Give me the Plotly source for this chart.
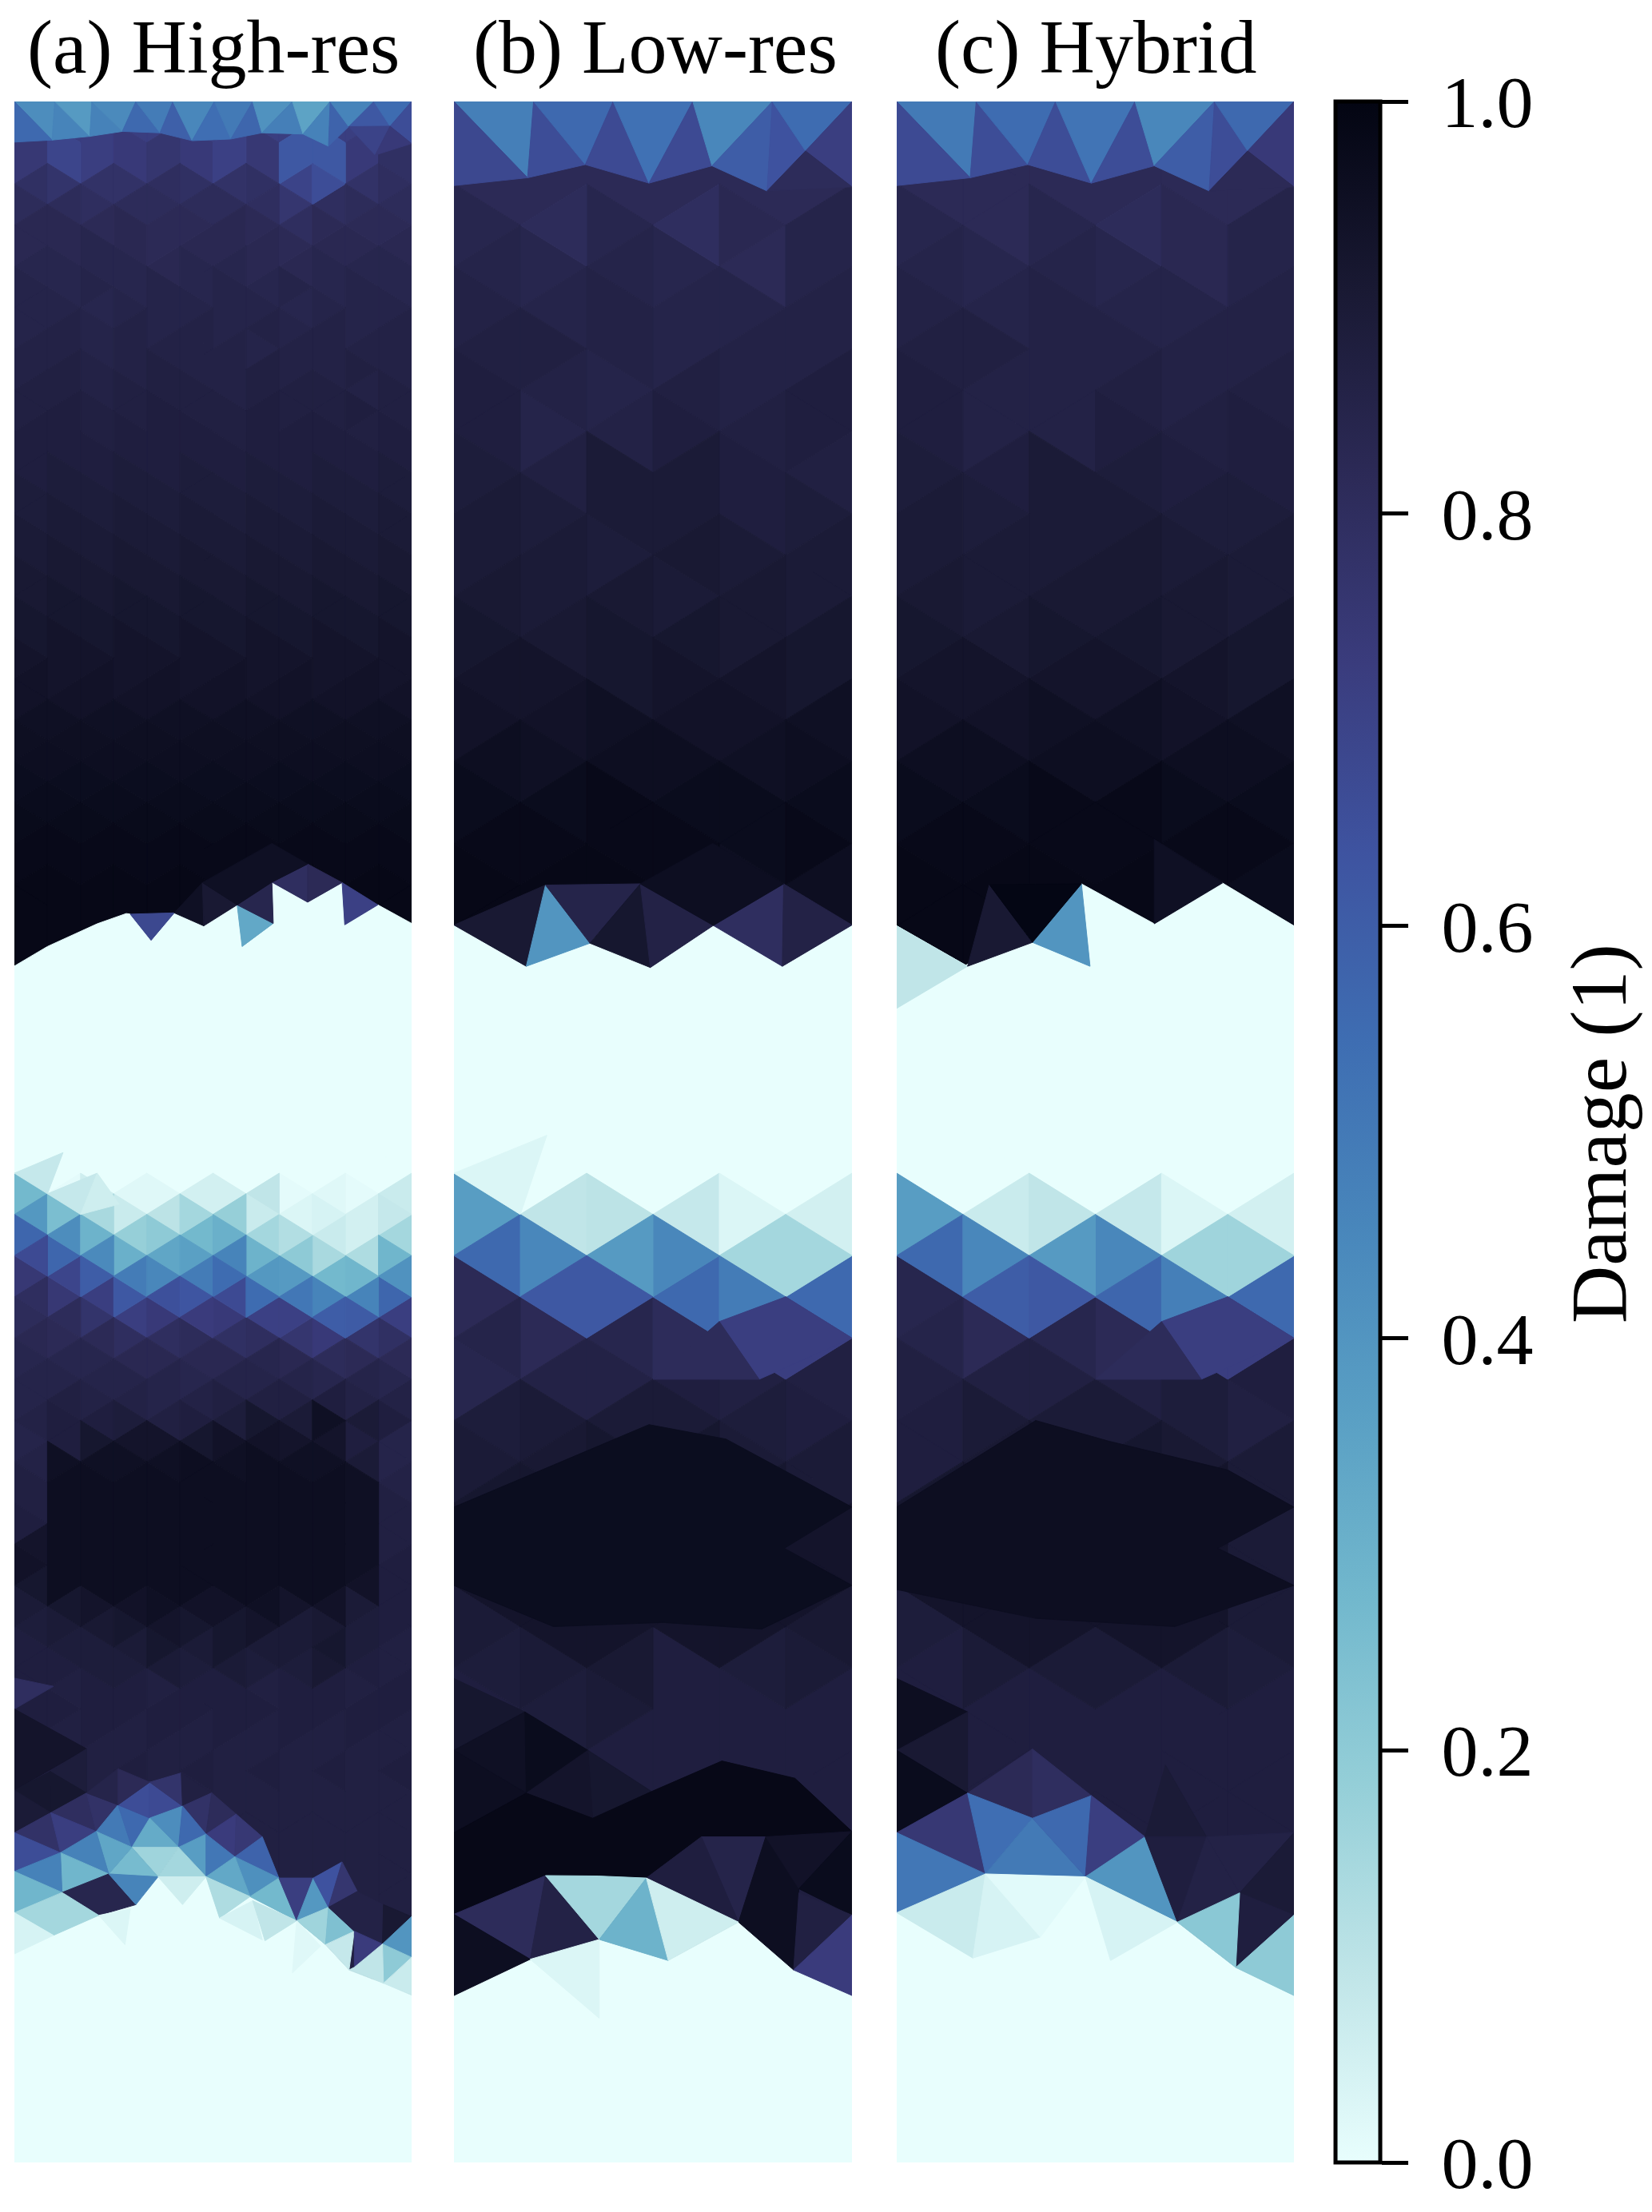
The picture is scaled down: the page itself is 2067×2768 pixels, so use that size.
import numpy as np
import plotly.graph_objects as go
from plotly.colors import cmocean

# ---- labels ----
PANEL_TITLES = ["(a) High-res", "(b) Low-res", "(c) Hybrid"]
COLORBAR_TITLE = "Damage (1)"
TICK_START, TICK_STEP = 0.0, 0.2
FONT = "Liberation Serif"

# ---- damage per lattice row (row index -> triangles left to right; short lists repeat; missing rows are 0) ----
HIGH_ROWS = {
 -1:[.70], 0:[.72],
 1:[.75,.69,.72,.74,.76,.74,.71,.75,.62,.62,.74,.79],
 2:[.75,.69,.72,.74,.76,.74,.71,.75,.62,.62,.74,.79],
 3:[.79,.77,.78,.78,.80,.79,.78,.79,.70,.66,.78,.80],
 4:[.81,.81,.80,.81,.81,.81,.81,.80,.76,.80,.81,.81],
 5:[.83,.83,.82,.83,.82,.82,.83,.82,.80,.82,.82,.82],
 6:[.83,.83,.84,.83,.82,.83,.83,.83,.82,.83,.83,.83],
 7:[.84,.84,.84,.84,.83,.84,.84,.83,.83,.84,.84,.84],
 8:[.85,.84,.85,.84,.85,.84], 9:[.85,.85,.84,.85,.85,.85], 10:[.85,.86,.85,.86],
 11:[.86,.86,.85,.86,.86], 12:[.86,.87,.86], 13:[.87,.87,.86,.87], 14:[.87,.88,.87],
 15:[.88,.88,.87,.88], 16:[.88], 17:[.88,.89], 18:[.89], 19:[.89,.90],
 20:[.90], 21:[.90,.91], 22:[.91], 23:[.91,.92], 24:[.92], 25:[.92,.93],
 26:[.93], 27:[.94,.93], 28:[.94], 29:[.95], 30:[.955], 31:[.96], 32:[.965],
 33:[.97], 34:[.975], 35:[.98], 36:[.98], 37:[.985], 38:[.985], 39:[.985], 40:[.985], 41:[.985],
 52:[.27,.01,.06,.02,.02,.05,.05,.09,.01,.02,.01,.07],
 53:[.39,.25,.14,.07,.10,.15,.18,.07,.03,.04,.05,.08],
 54:[.57,.43,.29,.18,.20,.27,.30,.15,.12,.07,.05,.15],
 55:[.67,.57,.44,.30,.34,.36,.46,.29,.20,.14,.13,.28],
 56:[.75,.69,.60,.49,.45,.49,.55,.39,.38,.27,.28,.41],
 57:[.80,.75,.72,.62,.65,.63,.67,.55,.51,.46,.46,.57],
 58:[.81,.81,.77,.72,.74,.73,.74,.71,.71,.60,.61,.72],
 59:[.83,.82,.82,.80,.80,.81,.79,.80,.76,.74,.77,.79],
 60:[.84,.84,.84,.83,.83,.83,.83,.84,.83,.81,.82,.82],
 61:[.85,.85,.85,.85,.85,.84,.85,.85,.85,.84,.85,.84],
 62:[.85,.87,.86,.86,.85,.86,.87,.87,.87,.88,.86,.86],
 63:[.86,.88,.88,.89,.87,.88,.89,.92,.90,.95,.90,.88],
 64:[.85,.88,.92,.93,.93,.92,.94,.94,.93,.93,.88,.85],
 65:[.86,.95,.95,.95,.95,.96,.95,.96,.95,.95,.90,.85],
 66:[.87,.96,.96,.96,.96,.96,.96,.96,.96,.96,.95,.86],
 67:[.87,.96,.96,.96,.96,.96,.96,.96,.96,.96,.95,.87],
 68:[.88,.96,.96,.96,.96,.96,.96,.96,.96,.96,.95,.87],
 69:[.93,.96,.96,.96,.96,.96,.96,.96,.96,.96,.95,.87],
 70:[.94,.96,.96,.96,.96,.96,.96,.96,.96,.96,.95,.88],
 71:[.92,.96,.96,.96,.96,.96,.96,.96,.96,.96,.94,.88],
 72:[.90,.92,.93,.94,.95,.94,.94,.95,.93,.94,.90,.88],
 73:[.89,.90,.91,.92,.93,.92,.92,.93,.90,.91,.89,.88],
 74:[.88,.89,.89,.90,.92,.90,.92,.90,.90,.92,.89,.87],
 75:[.88,.88,.89,.89,.90,.89,.90,.89,.89,.91,.88,.87],
 76:[.88,.87,.88], 77:[.88], 78:[.88,.87], 79:[.87], 80:[.87,.88], 81:[.87],
 82:[.87], 83:[.87], 84:[.87], 85:[.87], 86:[.87], 87:[.87], 88:[.87], 89:[.87], 90:[.87],
}
LOW_ROWS = {
 -1:[.82], 0:[.82], 1:[.82],
 2:[.84,.81,.84,.80,.83,.85], 3:[.85,.84,.85,.84,.82,.85], 4:[.86,.85,.86,.85,.85,.86],
 5:[.87,.87,.86,.85,.86,.86], 6:[.88,.86,.85,.87,.86,.88], 7:[.88,.85,.86,.88,.87,.88],
 8:[.89,.87,.90,.90,.88,.87], 9:[.90,.89,.90,.90,.88,.89], 10:[.90,.90,.89,.91,.90,.90],
 11:[.91,.90,.91,.90,.91,.90], 12:[.92,.91,.92,.92,.91,.92], 13:[.93,.93,.92,.93,.93,.92],
 14:[.94,.94,.95,.94,.94,.95], 15:[.96,.95,.96,.96,.95,.96], 16:[.97,.97,.98,.97,.97,.97],
 17:[.98,.98,.98,.98,.97,.98], 18:[.985,.985,.985,.985,.96,.96], 19:[.985],
 26:[.37,.09,.10,.08,.03,.05], 27:[.56,.45,.38,.45,.15,.15], 28:[.82,.62,.62,.56,.49,.56],
 29:[.85,.82,.84,.81,.72,.72], 30:[.84,.86,.86,.88,.87,.87], 31:[.89,.90,.90,.90,.89,.88],
 32:[.90,.91,.92,.92,.90,.90], 33:[.92,.92,.93,.93,.92,.90], 34:[.93,.93,.93,.93,.93,.93],
 35:[.93,.93,.93,.93,.93,.93], 36:[.90,.93,.93,.93,.93,.91], 37:[.89,.90,.91,.88,.89,.90],
 38:[.88,.89,.90,.88,.88,.88], 39:[.88], 40:[.88], 41:[.88], 42:[.88], 43:[.88], 44:[.88], 45:[.88],
}
HYBRID_ROWS = {
 -1:[.82], 0:[.82], 1:[.82],
 2:[.84,.82,.84,.81,.83,.85], 3:[.85,.84,.85,.84,.83,.85], 4:[.86,.85,.86,.85,.85,.86],
 5:[.87,.87,.86,.86,.86,.86], 6:[.88,.86,.86,.87,.86,.87], 7:[.88,.86,.86,.88,.87,.88],
 8:[.89,.88,.90,.89,.88,.88], 9:[.90,.89,.90,.90,.89,.89], 10:[.90,.90,.90,.91,.90,.90],
 11:[.91,.90,.91,.91,.91,.90], 12:[.92,.91,.92,.92,.91,.92], 13:[.93,.93,.93,.93,.93,.92],
 14:[.94,.94,.95,.95,.94,.95], 15:[.96,.96,.96,.96,.96,.96], 16:[.97,.97,.98,.98,.97,.97],
 17:[.98,.98,.98,.98,.98,.98], 18:[.985,.985,.985,.985,.96,.97], 19:[.985],
 26:[.37,.07,.09,.08,.03,.05], 27:[.56,.45,.38,.45,.16,.16], 28:[.84,.60,.62,.57,.48,.56],
 29:[.85,.82,.84,.82,.72,.72], 30:[.87,.87,.87,.87,.89,.88], 31:[.88,.90,.90,.90,.89,.87],
 32:[.88,.91,.92,.92,.91,.90], 33:[.92,.93,.93,.93,.93,.90], 34:[.93,.93,.93,.93,.93,.90],
 35:[.93,.93,.93,.93,.93,.90], 36:[.89,.93,.93,.93,.93,.90], 37:[.88,.90,.90,.90,.90,.89],
 38:[.88], 39:[.88], 40:[.88], 41:[.88], 42:[.88], 43:[.88], 44:[.88], 45:[.88],
}

# ---- undamaged crack regions: outline of mesh nodes (column, row) ----
HIGH_CRACKS = [
 [(0,41.95),(1,41),(2.5,39.9),(3.38,39.4),(3.5,39.43),(4.13,40.7),(4.83,39.37),(5.72,40),(6.73,38.98),(6.88,41),(7.82,39.88),(7.78,37.88),(8.86,38.85),(9.9,37.9),(9.98,39.95),(10.98,38.98),(12,39.88),(12,50),(0,50)],
 [(0,87.88),(1.4,87),(3,86.5),(4.34,86.14),(5.79,86.14),(7.12,87.1),(8.53,88.27),(9.4,89.43),(10.11,90.66),(12,91.88),(12,100),(0,100)],
]
LOW_CRACKS = [
 [(0,19.98),(1.09,20.98),(2.05,20.42),(2.96,21.01),(3.91,19.99),(4.95,20.98),(6,19.98),(6,25),(0,25)],
 [(0,45.95),(1.15,45.07),(2.19,44.59),(3.23,45.1),(4.29,44.17),(5.12,45.33),(6,45.95),(6,50),(0,50)],
]
HYBRID_CRACKS = [
 [(0,20),(1.07,20.98),(2.05,20.4),(2.92,20.98),(2.79,18.98),(3.89,19.95),(4.92,18.96),(6,20),(6,25),(0,25)],
 [(0,43.94),(1.34,43),(2.85,43.07),(4.24,44.17),(5.12,45.27),(6,45.95),(6,50),(0,50)],
]

# ---- irregular mesh cells: (damage, nodes as (column, row)) ----
HIGH_CELLS = [
 # top edge
 (.43,[(0,0),(1.22,0),(1.14,1.87)]),(.56,[(0,0),(1.14,1.87),(0,1.97)]),
 (.46,[(1.22,0),(2.28,1.69),(1.14,1.87)]),(.38,[(1.22,0),(2.34,0),(2.28,1.69)]),
 (.47,[(2.34,0),(3.26,1.45),(2.28,1.69)]),(.44,[(2.34,0),(3.67,0),(3.26,1.45)]),
 (.56,[(3.67,0),(4.4,1.52),(3.26,1.45)]),(.49,[(3.67,0),(4.79,0),(4.4,1.52)]),
 (.59,[(4.79,0),(5.37,1.9),(4.4,1.52)]),(.45,[(4.79,0),(6.04,0),(5.37,1.9)]),
 (.54,[(6.04,0),(6.54,1.82),(5.37,1.9)]),(.50,[(6.04,0),(7.2,0),(6.54,1.82)]),
 (.57,[(7.2,0),(7.48,1.52),(6.54,1.82)]),(.41,[(7.2,0),(8.4,0),(7.48,1.52)]),
 (.48,[(8.4,0),(8.72,1.58),(7.48,1.52)]),(.35,[(8.4,0),(9.54,0),(8.72,1.58)]),
 (.47,[(9.54,0),(9.49,2.17),(8.72,1.58)]),(.58,[(9.54,0),(10.1,1.22),(9.49,2.17)]),
 (.46,[(9.54,0),(10.86,0),(10.1,1.22)]),(.62,[(10.86,0),(11.35,1.2),(10.1,1.22)]),
 (.55,[(10.86,0),(12,0),(11.35,1.2)]),(.66,[(12,0),(12,2.04),(11.35,1.2)]),
 (.70,[(10.1,1.22),(11.35,1.2),(10.9,2.6)]),(.74,[(11.35,1.2),(12,2.04),(10.9,2.6)]),
 # upper crack edge
 (.68,[(3.5,39.43),(4.83,39.37),(4.13,40.7)]),(.33,[(6.73,38.98),(7.82,39.88),(6.88,41)]),
 (.71,[(9.98,39.95),(9.9,37.9),(10.98,38.98)]),(.84,[(6.73,38.98),(7.78,37.88),(7.82,39.88)]),
 (.80,[(7.78,37.88),(8.86,37),(8.86,38.85)]),(.82,[(8.86,37),(9.9,37.9),(8.86,38.85)]),
 (.95,[(4.83,39.37),(5.68,37.9),(5.72,40)]),(.91,[(5.68,37.9),(6.73,38.98),(5.72,40)]),
 (.95,[(5.68,37.9),(7.78,36),(8.86,37),(7.78,37.88),(6.73,38.98)]),
 # faint cells above the lower damage band
 (.08,[(0,52),(1.47,51),(1,53)]),(.08,[(1,53),(2.5,52),(2,54)]),(.06,[(2.5,52),(3.17,53.5),(2,54)]),
 # lower crack edge
 (.80,[(0,76.5),(1.18,76.9),(0,78)]),(.93,[(0,78),(2.18,79.93),(0,81.94)]),
 (.89,[(1.08,81.03),(2.18,79.93),(2.18,82.07)]),(.92,[(1.08,81.03),(2.18,82.07),(1.1,83.03)]),
 (.92,[(0,81.94),(1.08,81.03),(1.1,83.03)]),(.90,[(0,81.94),(1.1,83.03),(0,84)]),
 (.80,[(1.1,83.03),(2.18,82.07),(2.47,83.94)]),(.78,[(2.18,82.07),(3.13,82.65),(2.47,83.94)]),
 (.78,[(0,84),(1.1,83.03),(1.39,84.97)]),(.72,[(1.1,83.03),(2.47,83.94),(1.39,84.97)]),
 (.66,[(0,84),(1.39,84.97),(0,85.88)]),(.50,[(2.47,83.94),(3.13,82.65),(3.55,84.71)]),
 (.56,[(3.13,82.65),(4.09,83.29),(3.55,84.71)]),(.66,[(3.13,82.65),(4.09,81.55),(4.09,83.29)]),
 (.67,[(4.09,81.55),(5.08,82.71),(4.09,83.29)]),(.77,[(4.09,81.55),(5.04,81.1),(5.08,82.71)]),
 (.85,[(2.18,82.07),(3.13,80.9),(3.13,82.65)]),(.82,[(3.13,80.9),(4.09,81.55),(3.13,82.65)]),
 (.87,[(5.04,81.1),(5.96,82.07),(5.08,82.71)]),(.78,[(5.08,82.71),(5.96,82.07),(5.79,84.07)]),
 (.81,[(5.96,82.07),(6.7,83.1),(5.79,84.07)]),(.73,[(5.79,84.07),(6.7,83.1),(6.66,85.17)]),
 (.75,[(6.7,83.1),(7.49,84.2),(6.66,85.17)]),(.58,[(6.66,85.17),(7.49,84.2),(7.99,86.2)]),
 (.43,[(4.09,83.29),(5.08,82.71),(4.96,84.71)]),(.56,[(5.08,82.71),(5.79,84.07),(4.96,84.71)]),
 (.32,[(4.09,83.29),(4.96,84.71),(3.55,84.71)]),(.37,[(5.79,84.07),(5.79,86.14),(4.96,84.71)]),
 (.51,[(5.79,84.07),(6.66,85.17),(5.79,86.14)]),(.42,[(6.66,85.17),(7.99,86.2),(7.12,87.1)]),
 (.33,[(6.66,85.17),(7.12,87.1),(5.79,86.14)]),(.16,[(3.55,84.71),(4.96,84.71),(4.34,86.14)]),
 (.15,[(4.96,84.71),(5.79,86.14),(4.34,86.14)]),(.26,[(3.55,84.71),(4.34,86.14),(2.85,86)]),
 (.34,[(2.47,83.94),(3.55,84.71),(2.85,86)]),(.47,[(1.39,84.97),(2.47,83.94),(2.85,86)]),
 (.28,[(1.39,84.97),(2.85,86),(1.44,86.9)]),(.47,[(1.39,84.97),(1.44,86.9),(0,85.88)]),
 (.28,[(0,85.88),(1.44,86.9),(0,87.88)]),(.84,[(1.44,86.9),(2.85,86),(3.67,87.49),(2.55,88.01)]),
 (.46,[(2.85,86),(4.34,86.14),(3.67,87.49)]),(.06,[(4.34,86.14),(5.79,86.14),(5.08,87.49)]),
 (.15,[(0,87.88),(1.44,86.9),(2.55,88.01),(1.18,88.98)]),(.04,[(0,87.88),(1.18,88.98),(0,89.88)]),
 (.03,[(2.55,88.01),(3.5,87.7),(3.34,89.43)]),(.13,[(5.79,86.14),(7.12,87.1),(6.2,88.14)]),
 (.27,[(7.12,87.1),(7.99,86.2),(8.53,88.27)]),(.04,[(6.2,88.14),(7.2,87.3),(7.49,89.2)]),
 (.09,[(7.2,87.3),(8.53,88.27),(7.57,89.24)]),(.72,[(7.99,86.2),(9.03,86.2),(8.53,88.27)]),
 (.39,[(9.03,86.2),(9.49,87.62),(8.53,88.27)]),(.64,[(9.03,86.2),(9.9,85.42),(9.49,87.62)]),
 (.76,[(9.9,85.42),(10.36,86.85),(9.49,87.62)]),(.16,[(8.53,88.27),(9.49,87.62),(9.4,89.43)]),
 (.24,[(9.49,87.62),(10.27,88.78),(9.4,89.43)]),(.08,[(9.4,89.43),(10.27,88.78),(10.11,90.66)]),
 (.86,[(9.49,87.62),(10.36,86.85),(11.15,87.49),(11.12,89.4),(10.27,88.78)]),
 (.73,[(10.27,88.78),(11.12,89.4),(10.27,90.53)]),(.91,[(11.15,87.49),(12,88.07),(11.12,89.4)]),
 (.40,[(12,88.07),(12,90.05),(11.12,89.4)]),(.20,[(11.12,89.4),(12,90.05),(11.15,91.3)]),
 (.07,[(12,90.05),(12,91.88),(11.15,91.3)]),(.09,[(10.11,90.66),(10.27,90.53),(11.12,89.4),(11.15,91.3)]),
 (.02,[(8.53,88.27),(9.25,89.5),(8.4,90.8)]),
]
LOW_TOP = [
 (.48,[(0,0),(1.2,0),(1.11,1.85)]),(.68,[(0,0),(1.11,1.85),(0,2.04)]),
 (.66,[(1.2,0),(1.98,1.53),(1.11,1.85)]),(.56,[(1.2,0),(2.4,0),(1.98,1.53)]),
 (.67,[(2.4,0),(2.94,1.98),(1.98,1.53)]),(.53,[(2.4,0),(3.6,0),(2.94,1.98)]),
 (.67,[(3.6,0),(3.89,1.56),(2.94,1.98)]),(.45,[(3.6,0),(4.8,0),(3.89,1.56)]),
 (.60,[(4.8,0),(4.72,2.17),(3.89,1.56)]),(.64,[(4.8,0),(5.3,1.2),(4.72,2.17)]),
 (.55,[(4.8,0),(6,0),(5.3,1.2)]),(.72,[(6,0),(6,2.07),(5.3,1.2)]),
 (.81,[(5.3,1.2),(6,2.07),(4.72,2.17)]),
]
LOW_CELLS = LOW_TOP + [
 (.91,[(0,19.98),(1.38,19.01),(1.09,20.98)]),(.40,[(1.38,19.01),(2.05,20.42),(1.09,20.98)]),
 (.85,[(1.38,19.01),(2.81,18.98),(2.05,20.42)]),(.92,[(2.81,18.98),(2.05,20.42),(2.96,21.01)]),
 (.86,[(2.81,18.98),(3.91,19.99),(2.96,21.01)]),(.80,[(3.91,19.99),(4.97,18.98),(4.95,20.98)]),
 (.86,[(4.97,18.98),(6,19.98),(4.95,20.98)]),(.96,[(3.91,19.99),(2.81,18.98),(3.9,18),(4.97,18.98)]),
 (.03,[(1,27),(1.4,25.08),(0,26)]),(.72,[(4,29.6),(5,29),(6,30),(4.6,31)]),(.81,[(4,29.6),(4.6,31),(3,31)]),
 (.965,[(0,34.1),(2.94,32.1),(4.1,32.45),(6,34.1),(4.98,35.1),(6,36),(4.64,37.06),(3.15,36.9),(1.5,37),(0,36)]),
 (.92,[(0,38.26),(1.07,39.07),(0,40)]),(.95,[(0,40),(1.07,39.07),(1.09,41.04)]),
 (.97,[(1.07,39.07),(2.02,40),(1.09,41.04)]),(.96,[(0,40),(1.09,41.04),(0,42)]),
 (.92,[(2.02,40),(2.98,41),(2.09,41.65)]),(.93,[(1.09,41.04),(2.02,40),(2.09,41.65)]),
 (.985,[(0,42),(1.09,41.04),(2.09,41.65),(2.98,41),(4.04,40.26),(5.14,40.68),(6,41.97),(4.7,42.1),(3.73,42.1),(2.9,43.1),(1.38,43.04),(0,43.98)]),
 (.85,[(3.73,42.1),(4.7,42.1),(4.29,44.17)]),(.88,[(2.9,43.1),(3.73,42.1),(4.29,44.17)]),
 (.96,[(4.7,42.1),(5.2,43.36),(5.12,45.33),(4.29,44.17)]),(.94,[(4.7,42.1),(6,41.97),(5.2,43.36)]),
 (.97,[(5.2,43.36),(6,41.97),(6,44)]),(.87,[(5.2,43.46),(6,44),(5.12,45.33)]),
 (.73,[(6,44),(6,45.95),(5.12,45.33)]),(.81,[(0,43.98),(1.38,43.04),(1.15,45.07)]),
 (.86,[(1.38,43.04),(2.19,44.59),(1.15,45.07)]),(.15,[(1.38,43.04),(2.17,43.05),(2.9,43.1),(2.19,44.59)]),
 (.29,[(2.9,43.1),(3.23,45.1),(2.19,44.59)]),(.06,[(2.9,43.1),(4.29,44.17),(3.23,45.1)]),
 (.96,[(0,43.98),(1.15,45.07),(0,45.95)]),(.03,[(1.15,45.07),(2.19,44.59),(2.19,46.5)]),
]
HYBRID_TOP = [
 (.50,[(0,0),(1.2,0),(1.11,1.85)]),(.67,[(0,0),(1.11,1.85),(0,2.04)]),
 (.66,[(1.2,0),(1.98,1.53),(1.11,1.85)]),(.55,[(1.2,0),(2.4,0),(1.98,1.53)]),
 (.66,[(2.4,0),(2.94,1.98),(1.98,1.53)]),(.52,[(2.4,0),(3.6,0),(2.94,1.98)]),
 (.66,[(3.6,0),(3.89,1.56),(2.94,1.98)]),(.45,[(3.6,0),(4.8,0),(3.89,1.56)]),
 (.60,[(4.8,0),(4.72,2.17),(3.89,1.56)]),(.66,[(4.8,0),(5.3,1.2),(4.72,2.17)]),
 (.56,[(4.8,0),(6,0),(5.3,1.2)]),(.74,[(6,0),(6,2.07),(5.3,1.2)]),
 (.82,[(5.3,1.2),(6,2.07),(4.72,2.17)]),
]
HYBRID_CELLS = HYBRID_TOP + [
 (.09,[(0,20),(1.07,20.98),(0,22)]),(.40,[(2.79,18.98),(2.05,20.4),(2.92,20.98)]),
 (.91,[(1.4,19),(2.05,20.4),(1.07,20.98)]),(.995,[(1.4,19),(2.79,18.98),(2.05,20.4)]),
 (.95,[(3.89,19.95),(3.89,17.9),(4.92,18.96)]),
 (.72,[(4,29.6),(5,29),(6,30),(4.6,31)]),(.81,[(4,29.6),(4.6,31),(3,31)]),
 (.96,[(0,34.1),(2.1,32),(3.2,32.5),(5,33.2),(6,34.1),(4.85,35.1),(6,36),(4.2,37),(2.1,36.8),(0,36.1)]),
 (.96,[(0,38.26),(1.07,39.07),(0,40)]),(.91,[(0,40),(1.07,39.07),(1.07,41.04)]),
 (.97,[(0,40),(1.07,41.04),(0,42)]),(.82,[(1.07,41.04),(2.05,39.97),(2.05,41.65)]),
 (.80,[(2.05,39.97),(2.94,41.1),(2.05,41.65)]),(.75,[(0,42),(1.07,41.04),(1.34,43)]),
 (.54,[(1.07,41.04),(2.05,41.65),(1.34,43)]),(.50,[(1.34,43),(2.05,41.65),(2.85,43.07)]),
 (.56,[(2.05,41.65),(2.94,41.1),(2.85,43.07)]),(.72,[(2.94,41.1),(3.75,42.1),(2.85,43.07)]),
 (.40,[(2.85,43.07),(3.75,42.1),(4.24,44.17)]),(.51,[(0,42),(1.34,43),(0,43.94)]),
 (.90,[(3.75,42.1),(4.06,40.36),(4.68,42.1)]),(.88,[(3.75,42.1),(4.68,42.1),(4.24,44.17)]),
 (.86,[(4.68,42.1),(5.18,43.46),(4.24,44.17)]),(.86,[(4.68,42.1),(6,42),(5.18,43.46)]),
 (.90,[(5.18,43.46),(6,42),(6,44)]),(.88,[(5.18,43.46),(6,44),(5.12,45.27)]),
 (.21,[(4.24,44.17),(5.18,43.46),(5.12,45.27)]),
 (.20,[(6,44),(6,45.95),(5.12,45.27)]),(.07,[(0,43.94),(1.34,43),(1.15,45.04)]),
 (.04,[(1.34,43),(2.17,44.53),(1.15,45.04)]),(.015,[(1.34,43),(2.85,43.07),(2.17,44.53)]),
 (.04,[(2.85,43.07),(4.24,44.17),(3.23,45.1)]),
]

PANELS = [
 dict(rows=HIGH_ROWS, cracks=HIGH_CRACKS, cells=HIGH_CELLS, cols=12, depth=100),
 dict(rows=LOW_ROWS, cracks=LOW_CRACKS, cells=LOW_CELLS, cols=6, depth=50),
 dict(rows=HYBRID_ROWS, cracks=HYBRID_CRACKS, cells=HYBRID_CELLS, cols=6, depth=50),
]

# ---- colormap: cmocean ice, reversed, with the lightest stop ----
ICE = [tuple(int(c) for c in s[4:-1].split(",")) for s in cmocean.ice][::-1]
ICE[0] = (232, 254, 253)
ICE_POS = np.linspace(0, 1, len(ICE))
def colour(v):
    return "rgb(%d,%d,%d)" % tuple(round(float(np.interp(v, ICE_POS, [c[i] for c in ICE]))) for i in range(3))

W, H = 2067, 2768
PLOT_TOP, PLOT_BOTTOM = 127, 2706
PANEL_X = [(18, 515), (568, 1066), (1122, 1619)]
TITLE_X = [267, 820, 1371]
CBAR_X, CBAR_W, CBAR_TOP, CBAR_BOTTOM = 1671, 56, 127, 2706

def row_cells(rows, cols, depth):
    for m in range(-1, depth):
        vals = np.resize(rows.get(m, [0.0]), cols)
        for k, v in enumerate(vals):
            if (k + m) % 2 == 0:
                yield float(v), [(k, m), (k, m + 2), (k + 1, m + 1)]
            else:
                yield float(v), [(k + 1, m), (k + 1, m + 2), (k, m + 1)]

def poly_trace(v, polys, xa, ya):
    xs, ys = [], []
    for p in polys:
        xs += [q[0] for q in p] + [p[0][0], None]
        ys += [q[1] for q in p] + [p[0][1], None]
    c = colour(v)
    return go.Scatter(x=xs, y=ys, mode="lines", fill="toself", fillcolor=c,
                      line=dict(color=c, width=1), xaxis=xa, yaxis=ya,
                      hoverinfo="skip", showlegend=False)

fig = go.Figure()
layout = {}
for i, (p, (x0, x1)) in enumerate(zip(PANELS, PANEL_X)):
    s = "" if i == 0 else str(i + 1)
    xa, ya = "x" + s, "y" + s
    layout["xaxis" + s] = dict(domain=[x0 / W, x1 / W], range=[0, p["cols"]], visible=False, fixedrange=True, anchor=ya)
    layout["yaxis" + s] = dict(domain=[1 - PLOT_BOTTOM / H, 1 - PLOT_TOP / H], range=[p["depth"], 0], visible=False, fixedrange=True, anchor=xa)
    groups = {}
    for v, tri in row_cells(p["rows"], p["cols"], p["depth"]):
        groups.setdefault(v, []).append(tri)
    for v, polys in groups.items():
        fig.add_trace(poly_trace(v, polys, xa, ya))
    fig.add_trace(poly_trace(0.0, p["cracks"], xa, ya))
    for v, nodes in p["cells"]:
        fig.add_trace(poly_trace(v, [nodes], xa, ya))

# colour bar
fig.add_trace(go.Scatter(
    x=[0], y=[0], mode="markers", xaxis="x", yaxis="y", hoverinfo="skip", showlegend=False,
    marker=dict(size=1, opacity=0, color=[0.5], cmin=0, cmax=1,
                colorscale=[[float(t), "rgb(%d,%d,%d)" % c] for t, c in zip(ICE_POS, ICE)],
                colorbar=dict(
                    x=CBAR_X / W, xanchor="left", xref="paper", xpad=0, thickness=CBAR_W,
                    y=1 - (CBAR_TOP + CBAR_BOTTOM) / 2 / H, yanchor="middle", yref="paper", ypad=0,
                    len=(CBAR_BOTTOM - CBAR_TOP) / H, lenmode="fraction",
                    outlinewidth=5, outlinecolor="black",
                    ticks="outside", ticklen=33, tickwidth=5, tickcolor="black",
                    tickmode="linear", tick0=TICK_START, dtick=TICK_STEP, tickformat=".1f",
                    tickprefix="\u00a0",
                    tickfont=dict(family=FONT, size=92, color="black"),
                ))))

anns = []
for t, cx in zip(PANEL_TITLES, TITLE_X):
    anns.append(dict(text=t, x=cx / W, y=1 - 58 / H, xref="paper", yref="paper",
                     xanchor="center", yanchor="middle", showarrow=False,
                     font=dict(family=FONT, size=96, color="black")))
anns.append(dict(text=COLORBAR_TITLE, x=2000 / W, y=1 - 1419 / H, xref="paper", yref="paper",
                 xanchor="center", yanchor="middle", showarrow=False, textangle=-90,
                 font=dict(family=FONT, size=100, color="black")))

fig.update_layout(width=W, height=H, margin=dict(l=0, r=0, t=0, b=0),
                  paper_bgcolor="white", plot_bgcolor="white", annotations=anns, **layout)
fig.write_html("out.html", config={"displayModeBar": False}, post_script="document.body.style.margin='0';")
